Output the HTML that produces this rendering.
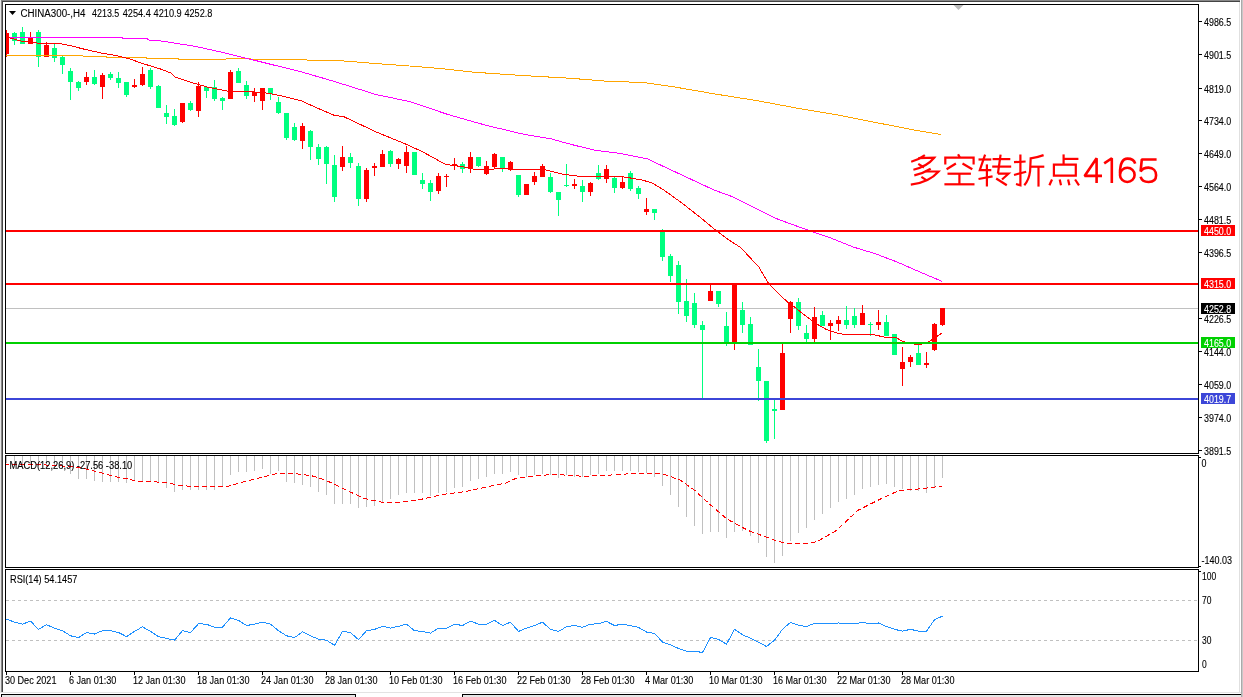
<!DOCTYPE html><html><head><meta charset="utf-8"><style>html,body{margin:0;padding:0;background:#fff;width:1243px;height:697px;overflow:hidden}</style></head><body><svg width="1243" height="697" viewBox="0 0 1243 697" shape-rendering="crispEdges" style="display:block;will-change:transform">
<rect x="0" y="0" width="1243" height="697" fill="#fff"/>
<rect x="0" y="0" width="1240" height="1" fill="#888888"/>
<rect x="0" y="1" width="1240" height="1" fill="#444444"/>
<rect x="0" y="0" width="1" height="692" fill="#e8e8e8"/>
<rect x="1" y="0" width="1" height="692" fill="#888888"/>
<rect x="2" y="1" width="1" height="691" fill="#444444"/>
<rect x="1239" y="2" width="1" height="690" fill="#e0e0e0"/>
<rect x="1241" y="0" width="1" height="697" fill="#aaaaaa"/>
<rect x="1242" y="0" width="1" height="697" fill="#c8c8c8"/>
<rect x="0" y="692" width="1241" height="1" fill="#e3e3e3"/>
<rect x="1" y="694" width="355" height="1" fill="#000"/>
<rect x="1" y="694" width="1" height="3" fill="#000"/>
<rect x="355" y="694" width="1" height="3" fill="#000"/>
<rect x="2" y="695" width="353" height="2" fill="#e6e6e6"/>
<rect x="462" y="694" width="779" height="1" fill="#000"/>
<rect x="462" y="694" width="1" height="3" fill="#000"/>
<rect x="463" y="695" width="778" height="2" fill="#e6e6e6"/>
<rect x="5" y="4" width="1194" height="1" fill="#000"/>
<rect x="5" y="453" width="1194" height="1" fill="#000"/>
<rect x="5" y="4" width="1" height="450" fill="#000"/>
<rect x="1198" y="4" width="1" height="450" fill="#000"/>
<rect x="5" y="455" width="1194" height="1" fill="#000"/>
<rect x="5" y="567" width="1194" height="1" fill="#000"/>
<rect x="5" y="455" width="1" height="113" fill="#000"/>
<rect x="1198" y="455" width="1" height="113" fill="#000"/>
<rect x="5" y="569" width="1194" height="1" fill="#000"/>
<rect x="5" y="671" width="1194" height="1" fill="#000"/>
<rect x="5" y="569" width="1" height="103" fill="#000"/>
<rect x="1198" y="569" width="1" height="103" fill="#000"/>
<defs><clipPath id="cm"><rect x="6" y="5" width="1192" height="448"/></clipPath><clipPath id="cd"><rect x="6" y="456" width="1192" height="111"/></clipPath><clipPath id="cr"><rect x="6" y="570" width="1192" height="101"/></clipPath></defs>
<polygon points="953.5,5 963.5,5 958.5,10" fill="#bbbbbb" shape-rendering="auto"/>
<g clip-path="url(#cm)">
<rect x="6" y="308" width="1192" height="1" fill="#c0c0c0"/>
<rect x="6" y="30" width="1" height="27" fill="#ff0000"/>
<rect x="4" y="33" width="5" height="21" fill="#ff0000"/>
<rect x="14" y="32" width="1" height="13" fill="#00ff7f"/>
<rect x="12" y="33" width="5" height="8" fill="#00ff7f"/>
<rect x="22" y="27" width="1" height="17" fill="#00ff7f"/>
<rect x="20" y="32" width="5" height="12" fill="#00ff7f"/>
<rect x="30" y="32" width="1" height="12" fill="#ff0000"/>
<rect x="28" y="38" width="5" height="6" fill="#ff0000"/>
<rect x="38" y="30" width="1" height="37" fill="#00ff7f"/>
<rect x="36" y="32" width="5" height="25" fill="#00ff7f"/>
<rect x="46" y="42" width="1" height="15" fill="#ff0000"/>
<rect x="44" y="45" width="5" height="12" fill="#ff0000"/>
<rect x="54" y="44" width="1" height="18" fill="#00ff7f"/>
<rect x="52" y="48" width="5" height="10" fill="#00ff7f"/>
<rect x="62" y="56" width="1" height="18" fill="#00ff7f"/>
<rect x="60" y="57" width="5" height="8" fill="#00ff7f"/>
<rect x="70" y="68" width="1" height="32" fill="#00ff7f"/>
<rect x="68" y="71" width="5" height="11" fill="#00ff7f"/>
<rect x="78" y="81" width="1" height="10" fill="#00ff7f"/>
<rect x="76" y="82" width="5" height="6" fill="#00ff7f"/>
<rect x="86" y="72" width="1" height="13" fill="#ff0000"/>
<rect x="84" y="77" width="5" height="5" fill="#ff0000"/>
<rect x="94" y="70" width="1" height="15" fill="#00ff7f"/>
<rect x="92" y="77" width="5" height="7" fill="#00ff7f"/>
<rect x="102" y="73" width="1" height="26" fill="#ff0000"/>
<rect x="100" y="75" width="5" height="12" fill="#ff0000"/>
<rect x="110" y="72" width="1" height="8" fill="#00ff7f"/>
<rect x="108" y="74" width="5" height="4" fill="#00ff7f"/>
<rect x="118" y="72" width="1" height="16" fill="#00ff7f"/>
<rect x="116" y="78" width="5" height="5" fill="#00ff7f"/>
<rect x="126" y="82" width="1" height="15" fill="#00ff7f"/>
<rect x="124" y="82" width="5" height="13" fill="#00ff7f"/>
<rect x="134" y="79" width="1" height="9" fill="#ff0000"/>
<rect x="132" y="85" width="5" height="2" fill="#ff0000"/>
<rect x="142" y="67" width="1" height="19" fill="#ff0000"/>
<rect x="140" y="74" width="5" height="11" fill="#ff0000"/>
<rect x="150" y="68" width="1" height="21" fill="#00ff7f"/>
<rect x="148" y="70" width="5" height="17" fill="#00ff7f"/>
<rect x="158" y="85" width="1" height="23" fill="#00ff7f"/>
<rect x="156" y="86" width="5" height="22" fill="#00ff7f"/>
<rect x="166" y="105" width="1" height="19" fill="#00ff7f"/>
<rect x="164" y="113" width="5" height="4" fill="#00ff7f"/>
<rect x="174" y="109" width="1" height="17" fill="#00ff7f"/>
<rect x="172" y="116" width="5" height="9" fill="#00ff7f"/>
<rect x="182" y="103" width="1" height="20" fill="#ff0000"/>
<rect x="180" y="103" width="5" height="19" fill="#ff0000"/>
<rect x="190" y="101" width="1" height="10" fill="#00ff7f"/>
<rect x="188" y="103" width="5" height="7" fill="#00ff7f"/>
<rect x="198" y="82" width="1" height="35" fill="#ff0000"/>
<rect x="196" y="86" width="5" height="25" fill="#ff0000"/>
<rect x="206" y="86" width="1" height="12" fill="#00ff7f"/>
<rect x="204" y="87" width="5" height="4" fill="#00ff7f"/>
<rect x="214" y="80" width="1" height="21" fill="#00ff7f"/>
<rect x="212" y="87" width="5" height="12" fill="#00ff7f"/>
<rect x="222" y="97" width="1" height="13" fill="#00ff7f"/>
<rect x="220" y="98" width="5" height="3" fill="#00ff7f"/>
<rect x="230" y="70" width="1" height="29" fill="#ff0000"/>
<rect x="228" y="72" width="5" height="27" fill="#ff0000"/>
<rect x="238" y="68" width="1" height="15" fill="#00ff7f"/>
<rect x="236" y="71" width="5" height="12" fill="#00ff7f"/>
<rect x="246" y="81" width="1" height="18" fill="#00ff7f"/>
<rect x="244" y="85" width="5" height="11" fill="#00ff7f"/>
<rect x="254" y="88" width="1" height="14" fill="#ff0000"/>
<rect x="252" y="92" width="5" height="4" fill="#ff0000"/>
<rect x="262" y="88" width="1" height="22" fill="#ff0000"/>
<rect x="260" y="88" width="5" height="13" fill="#ff0000"/>
<rect x="270" y="88" width="1" height="12" fill="#00ff7f"/>
<rect x="268" y="88" width="5" height="6" fill="#00ff7f"/>
<rect x="278" y="97" width="1" height="17" fill="#00ff7f"/>
<rect x="276" y="102" width="5" height="11" fill="#00ff7f"/>
<rect x="286" y="113" width="1" height="27" fill="#00ff7f"/>
<rect x="284" y="113" width="5" height="25" fill="#00ff7f"/>
<rect x="294" y="123" width="1" height="18" fill="#00ff7f"/>
<rect x="292" y="127" width="5" height="13" fill="#00ff7f"/>
<rect x="302" y="123" width="1" height="26" fill="#ff0000"/>
<rect x="300" y="126" width="5" height="15" fill="#ff0000"/>
<rect x="310" y="130" width="1" height="30" fill="#00ff7f"/>
<rect x="308" y="131" width="5" height="16" fill="#00ff7f"/>
<rect x="318" y="144" width="1" height="21" fill="#00ff7f"/>
<rect x="316" y="147" width="5" height="12" fill="#00ff7f"/>
<rect x="326" y="146" width="1" height="38" fill="#00ff7f"/>
<rect x="324" y="147" width="5" height="17" fill="#00ff7f"/>
<rect x="334" y="155" width="1" height="47" fill="#00ff7f"/>
<rect x="332" y="165" width="5" height="32" fill="#00ff7f"/>
<rect x="342" y="146" width="1" height="25" fill="#ff0000"/>
<rect x="340" y="157" width="5" height="10" fill="#ff0000"/>
<rect x="350" y="153" width="1" height="15" fill="#00ff7f"/>
<rect x="348" y="157" width="5" height="6" fill="#00ff7f"/>
<rect x="358" y="163" width="1" height="43" fill="#00ff7f"/>
<rect x="356" y="166" width="5" height="33" fill="#00ff7f"/>
<rect x="366" y="168" width="1" height="34" fill="#ff0000"/>
<rect x="364" y="170" width="5" height="29" fill="#ff0000"/>
<rect x="374" y="163" width="1" height="13" fill="#ff0000"/>
<rect x="372" y="166" width="5" height="2" fill="#ff0000"/>
<rect x="382" y="150" width="1" height="17" fill="#ff0000"/>
<rect x="380" y="154" width="5" height="13" fill="#ff0000"/>
<rect x="390" y="150" width="1" height="17" fill="#00ff7f"/>
<rect x="388" y="151" width="5" height="13" fill="#00ff7f"/>
<rect x="398" y="158" width="1" height="11" fill="#ff0000"/>
<rect x="396" y="159" width="5" height="5" fill="#ff0000"/>
<rect x="406" y="146" width="1" height="27" fill="#ff0000"/>
<rect x="404" y="152" width="5" height="14" fill="#ff0000"/>
<rect x="414" y="152" width="1" height="23" fill="#00ff7f"/>
<rect x="412" y="152" width="5" height="23" fill="#00ff7f"/>
<rect x="422" y="173" width="1" height="16" fill="#00ff7f"/>
<rect x="420" y="180" width="5" height="4" fill="#00ff7f"/>
<rect x="430" y="180" width="1" height="21" fill="#00ff7f"/>
<rect x="428" y="183" width="5" height="9" fill="#00ff7f"/>
<rect x="438" y="173" width="1" height="21" fill="#ff0000"/>
<rect x="436" y="176" width="5" height="15" fill="#ff0000"/>
<rect x="446" y="174" width="1" height="13" fill="#ff0000"/>
<rect x="444" y="176" width="5" height="1" fill="#ff0000"/>
<rect x="454" y="158" width="1" height="12" fill="#ff0000"/>
<rect x="452" y="164" width="5" height="2" fill="#ff0000"/>
<rect x="462" y="162" width="1" height="11" fill="#00ff7f"/>
<rect x="460" y="164" width="5" height="5" fill="#00ff7f"/>
<rect x="470" y="152" width="1" height="21" fill="#ff0000"/>
<rect x="468" y="157" width="5" height="12" fill="#ff0000"/>
<rect x="478" y="157" width="1" height="10" fill="#00ff7f"/>
<rect x="476" y="157" width="5" height="9" fill="#00ff7f"/>
<rect x="486" y="161" width="1" height="14" fill="#ff0000"/>
<rect x="484" y="166" width="5" height="8" fill="#ff0000"/>
<rect x="494" y="153" width="1" height="15" fill="#ff0000"/>
<rect x="492" y="154" width="5" height="13" fill="#ff0000"/>
<rect x="502" y="157" width="1" height="15" fill="#00ff7f"/>
<rect x="500" y="157" width="5" height="11" fill="#00ff7f"/>
<rect x="510" y="161" width="1" height="10" fill="#ff0000"/>
<rect x="508" y="162" width="5" height="7" fill="#ff0000"/>
<rect x="518" y="175" width="1" height="22" fill="#00ff7f"/>
<rect x="516" y="175" width="5" height="20" fill="#00ff7f"/>
<rect x="526" y="184" width="1" height="11" fill="#ff0000"/>
<rect x="524" y="184" width="5" height="11" fill="#ff0000"/>
<rect x="534" y="172" width="1" height="13" fill="#ff0000"/>
<rect x="532" y="176" width="5" height="6" fill="#ff0000"/>
<rect x="542" y="164" width="1" height="13" fill="#ff0000"/>
<rect x="540" y="166" width="5" height="11" fill="#ff0000"/>
<rect x="550" y="173" width="1" height="20" fill="#00ff7f"/>
<rect x="548" y="177" width="5" height="15" fill="#00ff7f"/>
<rect x="558" y="192" width="1" height="24" fill="#00ff7f"/>
<rect x="556" y="192" width="5" height="8" fill="#00ff7f"/>
<rect x="566" y="164" width="1" height="23" fill="#00ff7f"/>
<rect x="564" y="185" width="5" height="1" fill="#00ff7f"/>
<rect x="574" y="179" width="1" height="10" fill="#ff0000"/>
<rect x="572" y="184" width="5" height="2" fill="#ff0000"/>
<rect x="582" y="180" width="1" height="22" fill="#00ff7f"/>
<rect x="580" y="186" width="5" height="6" fill="#00ff7f"/>
<rect x="590" y="182" width="1" height="14" fill="#ff0000"/>
<rect x="588" y="183" width="5" height="9" fill="#ff0000"/>
<rect x="598" y="165" width="1" height="15" fill="#00ff7f"/>
<rect x="596" y="173" width="5" height="6" fill="#00ff7f"/>
<rect x="606" y="165" width="1" height="18" fill="#ff0000"/>
<rect x="604" y="169" width="5" height="10" fill="#ff0000"/>
<rect x="614" y="177" width="1" height="16" fill="#00ff7f"/>
<rect x="612" y="178" width="5" height="10" fill="#00ff7f"/>
<rect x="622" y="177" width="1" height="12" fill="#ff0000"/>
<rect x="620" y="182" width="5" height="6" fill="#ff0000"/>
<rect x="630" y="171" width="1" height="20" fill="#00ff7f"/>
<rect x="628" y="173" width="5" height="16" fill="#00ff7f"/>
<rect x="638" y="186" width="1" height="13" fill="#00ff7f"/>
<rect x="636" y="188" width="5" height="6" fill="#00ff7f"/>
<rect x="646" y="198" width="1" height="17" fill="#ff0000"/>
<rect x="644" y="209" width="5" height="3" fill="#ff0000"/>
<rect x="654" y="209" width="1" height="11" fill="#00ff7f"/>
<rect x="652" y="209" width="5" height="4" fill="#00ff7f"/>
<rect x="662" y="229" width="1" height="32" fill="#00ff7f"/>
<rect x="660" y="231" width="5" height="26" fill="#00ff7f"/>
<rect x="670" y="254" width="1" height="28" fill="#00ff7f"/>
<rect x="668" y="256" width="5" height="20" fill="#00ff7f"/>
<rect x="678" y="261" width="1" height="53" fill="#00ff7f"/>
<rect x="676" y="265" width="5" height="37" fill="#00ff7f"/>
<rect x="686" y="279" width="1" height="43" fill="#00ff7f"/>
<rect x="684" y="301" width="5" height="15" fill="#00ff7f"/>
<rect x="694" y="293" width="1" height="35" fill="#00ff7f"/>
<rect x="692" y="303" width="5" height="22" fill="#00ff7f"/>
<rect x="702" y="321" width="1" height="77" fill="#00ff7f"/>
<rect x="700" y="325" width="5" height="5" fill="#00ff7f"/>
<rect x="710" y="285" width="1" height="16" fill="#ff0000"/>
<rect x="708" y="291" width="5" height="10" fill="#ff0000"/>
<rect x="718" y="291" width="1" height="16" fill="#00ff7f"/>
<rect x="716" y="291" width="5" height="13" fill="#00ff7f"/>
<rect x="726" y="312" width="1" height="34" fill="#00ff7f"/>
<rect x="724" y="326" width="5" height="16" fill="#00ff7f"/>
<rect x="734" y="284" width="1" height="66" fill="#ff0000"/>
<rect x="732" y="284" width="5" height="58" fill="#ff0000"/>
<rect x="742" y="302" width="1" height="31" fill="#00ff7f"/>
<rect x="740" y="310" width="5" height="15" fill="#00ff7f"/>
<rect x="750" y="317" width="1" height="28" fill="#00ff7f"/>
<rect x="748" y="324" width="5" height="21" fill="#00ff7f"/>
<rect x="758" y="349" width="1" height="52" fill="#00ff7f"/>
<rect x="756" y="367" width="5" height="14" fill="#00ff7f"/>
<rect x="766" y="381" width="1" height="62" fill="#00ff7f"/>
<rect x="764" y="381" width="5" height="60" fill="#00ff7f"/>
<rect x="774" y="400" width="1" height="39" fill="#00ff7f"/>
<rect x="772" y="409" width="5" height="2" fill="#00ff7f"/>
<rect x="782" y="344" width="1" height="66" fill="#ff0000"/>
<rect x="780" y="353" width="5" height="57" fill="#ff0000"/>
<rect x="790" y="301" width="1" height="32" fill="#ff0000"/>
<rect x="788" y="302" width="5" height="17" fill="#ff0000"/>
<rect x="798" y="298" width="1" height="32" fill="#00ff7f"/>
<rect x="796" y="302" width="5" height="24" fill="#00ff7f"/>
<rect x="806" y="325" width="1" height="17" fill="#00ff7f"/>
<rect x="804" y="333" width="5" height="6" fill="#00ff7f"/>
<rect x="814" y="307" width="1" height="35" fill="#ff0000"/>
<rect x="812" y="317" width="5" height="22" fill="#ff0000"/>
<rect x="822" y="311" width="1" height="15" fill="#00ff7f"/>
<rect x="820" y="315" width="5" height="11" fill="#00ff7f"/>
<rect x="830" y="320" width="1" height="20" fill="#ff0000"/>
<rect x="828" y="323" width="5" height="3" fill="#ff0000"/>
<rect x="838" y="316" width="1" height="15" fill="#ff0000"/>
<rect x="836" y="320" width="5" height="4" fill="#ff0000"/>
<rect x="846" y="306" width="1" height="23" fill="#00ff7f"/>
<rect x="844" y="320" width="5" height="5" fill="#00ff7f"/>
<rect x="854" y="308" width="1" height="20" fill="#00ff7f"/>
<rect x="852" y="316" width="5" height="9" fill="#00ff7f"/>
<rect x="862" y="305" width="1" height="20" fill="#ff0000"/>
<rect x="860" y="313" width="5" height="12" fill="#ff0000"/>
<rect x="870" y="322" width="1" height="14" fill="#00ff7f"/>
<rect x="868" y="324" width="5" height="1" fill="#00ff7f"/>
<rect x="878" y="310" width="1" height="20" fill="#ff0000"/>
<rect x="876" y="322" width="5" height="3" fill="#ff0000"/>
<rect x="886" y="315" width="1" height="21" fill="#00ff7f"/>
<rect x="884" y="322" width="5" height="14" fill="#00ff7f"/>
<rect x="894" y="334" width="1" height="21" fill="#00ff7f"/>
<rect x="892" y="334" width="5" height="21" fill="#00ff7f"/>
<rect x="902" y="347" width="1" height="39" fill="#ff0000"/>
<rect x="900" y="362" width="5" height="7" fill="#ff0000"/>
<rect x="910" y="355" width="1" height="12" fill="#ff0000"/>
<rect x="908" y="357" width="5" height="5" fill="#ff0000"/>
<rect x="918" y="345" width="1" height="20" fill="#00ff7f"/>
<rect x="916" y="353" width="5" height="12" fill="#00ff7f"/>
<rect x="926" y="352" width="1" height="16" fill="#ff0000"/>
<rect x="924" y="363" width="5" height="2" fill="#ff0000"/>
<rect x="934" y="323" width="1" height="28" fill="#ff0000"/>
<rect x="932" y="324" width="5" height="26" fill="#ff0000"/>
<rect x="942" y="308" width="1" height="18" fill="#ff0000"/>
<rect x="940" y="308" width="5" height="17" fill="#ff0000"/>
<polyline points="5.7,55.5 82.0,55.6 84.0,56.6 106.0,56.8 108.0,57.6 146.0,57.8 148.0,58.5 178.0,58.5 179.0,59.5 225.5,59.5 226.5,58.5 249.5,58.5 252.0,59.5 306.5,59.5 307.5,60.5 338.3,60.5 371.0,63.2 409.4,66.0 442.2,68.7 475.0,72.3 524.3,75.6 570.8,78.3 611.8,81.6 641.9,82.3 674.7,87.0 715.7,94.1 756.8,100.6 797.8,108.3 838.8,115.1 879.8,123.3 915.4,130.2 941.4,134.6" fill="none" stroke="#ffa500" stroke-width="1" />
<polyline points="7.7,37.4 122.0,37.4 123.0,38.4 147.0,38.6 149.0,40.2 160.0,40.8 196.2,46.5 224.6,52.9 253.0,59.9 284.0,67.6 300.0,71.5 332.8,81.0 376.6,94.7 409.4,101.5 447.7,114.4 486.0,125.3 524.3,134.4 551.6,139.0 570.3,144.2 593.6,150.0 620.0,153.4 647.4,158.9 674.6,171.6 713.3,189.7 732.7,196.8 760.0,210.5 776.1,218.5 792.2,224.5 808.3,230.2 832.4,238.6 853.3,247.0 875.8,253.9 896.8,261.9 920.9,272.4 941.8,281.3" fill="none" stroke="#ff00ff" stroke-width="1" />
<polyline points="7.1,37.4 12.9,38.7 21.9,41.3 33.6,42.6 38.7,43.2 58.1,43.2 68.4,45.2 83.9,49.1 100.7,52.9 116.2,55.5 129.1,58.7 142.0,63.3 160.0,68.8 170.8,73.0 175.3,77.0 186.3,80.8 196.6,84.0 208.2,87.3 226.3,90.9 231.5,91.5 250.8,91.8 267.6,93.1 283.1,96.3 301.2,100.8 314.0,106.6 334.7,115.5 343.4,116.5 377.0,132.3 406.7,144.5 422.2,151.6 445.4,164.3 461.0,166.5 466.0,167.4 474.8,169.4 490.3,169.4 499.3,168.5 514.8,169.4 545.8,170.0 561.3,173.9 578.1,176.2 618.0,176.2 626.8,177.4 642.3,180.0 652.6,183.2 664.2,190.3 682.3,203.3 700.4,217.5 715.9,230.4 727.8,239.2 740.7,247.6 758.8,267.0 769.1,284.4 787.2,301.8 794.3,306.8 802.0,313.2 811.0,320.0 816.8,324.0 825.8,329.2 837.4,333.1 843.9,334.4 872.3,334.4 883.9,337.0 895.5,337.3 903.3,341.7 914.9,344.3 921.4,344.3 929.1,341.5 942.0,333.1" fill="none" stroke="#ff0000" stroke-width="1" />
<rect x="6" y="230" width="1192" height="2" fill="#ff0000"/>
<rect x="6" y="283" width="1192" height="2" fill="#ff0000"/>
<rect x="6" y="342" width="1192" height="2" fill="#00d000"/>
<rect x="6" y="398" width="1192" height="2" fill="#3c46d8"/>
</g>
<polygon points="9,11 16,11 12.5,15" fill="#000" shape-rendering="auto"/>
<text x="20.5" y="16.5" font-size="10" fill="#000" stroke="#000" stroke-width="0.1" font-family="Liberation Sans, sans-serif" textLength="65.0" lengthAdjust="spacingAndGlyphs">CHINA300-,H4</text>
<text x="92.0" y="16.5" font-size="10" fill="#000" stroke="#000" stroke-width="0.1" font-family="Liberation Sans, sans-serif" textLength="27.3" lengthAdjust="spacingAndGlyphs">4213.5</text>
<text x="122.7" y="16.5" font-size="10" fill="#000" stroke="#000" stroke-width="0.1" font-family="Liberation Sans, sans-serif" textLength="28.1" lengthAdjust="spacingAndGlyphs">4254.4</text>
<text x="153.6" y="16.5" font-size="10" fill="#000" stroke="#000" stroke-width="0.1" font-family="Liberation Sans, sans-serif" textLength="28.1" lengthAdjust="spacingAndGlyphs">4210.9</text>
<text x="184.39999999999998" y="16.5" font-size="10" fill="#000" stroke="#000" stroke-width="0.1" font-family="Liberation Sans, sans-serif" textLength="28.0" lengthAdjust="spacingAndGlyphs">4252.8</text>
<rect x="1199" y="21" width="3" height="1" fill="#000"/>
<text transform="translate(1204,25.5) scale(0.89,1)" font-size="10" fill="#000" stroke="#000" stroke-width="0.12" font-family="Liberation Sans, sans-serif" >4986.5</text>
<rect x="1199" y="54" width="3" height="1" fill="#000"/>
<text transform="translate(1204,58.5) scale(0.89,1)" font-size="10" fill="#000" stroke="#000" stroke-width="0.12" font-family="Liberation Sans, sans-serif" >4901.5</text>
<rect x="1199" y="88" width="3" height="1" fill="#000"/>
<text transform="translate(1204,92.5) scale(0.89,1)" font-size="10" fill="#000" stroke="#000" stroke-width="0.12" font-family="Liberation Sans, sans-serif" >4819.0</text>
<rect x="1199" y="120" width="3" height="1" fill="#000"/>
<text transform="translate(1204,124.5) scale(0.89,1)" font-size="10" fill="#000" stroke="#000" stroke-width="0.12" font-family="Liberation Sans, sans-serif" >4734.0</text>
<rect x="1199" y="153" width="3" height="1" fill="#000"/>
<text transform="translate(1204,157.5) scale(0.89,1)" font-size="10" fill="#000" stroke="#000" stroke-width="0.12" font-family="Liberation Sans, sans-serif" >4649.0</text>
<rect x="1199" y="186" width="3" height="1" fill="#000"/>
<text transform="translate(1204,190.5) scale(0.89,1)" font-size="10" fill="#000" stroke="#000" stroke-width="0.12" font-family="Liberation Sans, sans-serif" >4564.0</text>
<rect x="1199" y="219" width="3" height="1" fill="#000"/>
<text transform="translate(1204,223.5) scale(0.89,1)" font-size="10" fill="#000" stroke="#000" stroke-width="0.12" font-family="Liberation Sans, sans-serif" >4481.5</text>
<rect x="1199" y="252" width="3" height="1" fill="#000"/>
<text transform="translate(1204,256.5) scale(0.89,1)" font-size="10" fill="#000" stroke="#000" stroke-width="0.12" font-family="Liberation Sans, sans-serif" >4396.5</text>
<rect x="1199" y="318" width="3" height="1" fill="#000"/>
<text transform="translate(1204,322.5) scale(0.89,1)" font-size="10" fill="#000" stroke="#000" stroke-width="0.12" font-family="Liberation Sans, sans-serif" >4226.5</text>
<rect x="1199" y="351" width="3" height="1" fill="#000"/>
<text transform="translate(1204,355.5) scale(0.89,1)" font-size="10" fill="#000" stroke="#000" stroke-width="0.12" font-family="Liberation Sans, sans-serif" >4144.0</text>
<rect x="1199" y="384" width="3" height="1" fill="#000"/>
<text transform="translate(1204,388.5) scale(0.89,1)" font-size="10" fill="#000" stroke="#000" stroke-width="0.12" font-family="Liberation Sans, sans-serif" >4059.0</text>
<rect x="1199" y="417" width="3" height="1" fill="#000"/>
<text transform="translate(1204,421.5) scale(0.89,1)" font-size="10" fill="#000" stroke="#000" stroke-width="0.12" font-family="Liberation Sans, sans-serif" >3974.0</text>
<rect x="1199" y="450" width="3" height="1" fill="#000"/>
<text transform="translate(1204,454.5) scale(0.89,1)" font-size="10" fill="#000" stroke="#000" stroke-width="0.12" font-family="Liberation Sans, sans-serif" >3891.5</text>
<rect x="1201" y="225" width="34" height="11" fill="#ff0000"/>
<text transform="translate(1204,234.5) scale(0.89,1)" font-size="10" fill="#fff" stroke="#fff" stroke-width="0.12" font-family="Liberation Sans, sans-serif" >4450.0</text>
<rect x="1201" y="278" width="34" height="11" fill="#ff0000"/>
<text transform="translate(1204,287.5) scale(0.89,1)" font-size="10" fill="#fff" stroke="#fff" stroke-width="0.12" font-family="Liberation Sans, sans-serif" >4315.0</text>
<rect x="1201" y="303" width="34" height="11" fill="#000000"/>
<text transform="translate(1204,312.5) scale(0.89,1)" font-size="10" fill="#fff" stroke="#fff" stroke-width="0.12" font-family="Liberation Sans, sans-serif" >4252.8</text>
<rect x="1201" y="337" width="34" height="11" fill="#00d000"/>
<text transform="translate(1204,346.5) scale(0.89,1)" font-size="10" fill="#fff" stroke="#fff" stroke-width="0.12" font-family="Liberation Sans, sans-serif" >4165.0</text>
<rect x="1201" y="393" width="34" height="11" fill="#3c46d8"/>
<text transform="translate(1204,402.5) scale(0.89,1)" font-size="10" fill="#fff" stroke="#fff" stroke-width="0.12" font-family="Liberation Sans, sans-serif" >4019.7</text>
<path d="M924.9,155.1 Q919,159.5 911.2,161.7" fill="none" stroke="#ff0000" stroke-width="2.2" stroke-linecap="butt" stroke-linejoin="miter" shape-rendering="auto"/>
<path d="M918.3,158.2 L934.2,157.7 Q927,166.5 913.4,169.7" fill="none" stroke="#ff0000" stroke-width="2.2" stroke-linecap="butt" stroke-linejoin="miter" shape-rendering="auto"/>
<path d="M918.3,163.9 L924,167.5" fill="none" stroke="#ff0000" stroke-width="2.2" stroke-linecap="butt" stroke-linejoin="miter" shape-rendering="auto"/>
<path d="M930.7,168.8 Q923,173.5 914.3,175.4" fill="none" stroke="#ff0000" stroke-width="2.2" stroke-linecap="butt" stroke-linejoin="miter" shape-rendering="auto"/>
<path d="M925.4,171.5 L938.6,171.5 Q929,182.5 910.8,184.7" fill="none" stroke="#ff0000" stroke-width="2.2" stroke-linecap="butt" stroke-linejoin="miter" shape-rendering="auto"/>
<path d="M921.4,176.8 L926.7,180.3" fill="none" stroke="#ff0000" stroke-width="2.2" stroke-linecap="butt" stroke-linejoin="miter" shape-rendering="auto"/>
<path d="M958.1,154.2 L959.9,157.7" fill="none" stroke="#ff0000" stroke-width="2.2" stroke-linecap="butt" stroke-linejoin="miter" shape-rendering="auto"/>
<path d="M945.3,164.4 L945.3,157.7 L973.6,157.7 L973.6,164.4" fill="none" stroke="#ff0000" stroke-width="2.2" stroke-linecap="butt" stroke-linejoin="miter" shape-rendering="auto"/>
<path d="M955.9,163.5 L946.6,169.2" fill="none" stroke="#ff0000" stroke-width="2.2" stroke-linecap="butt" stroke-linejoin="miter" shape-rendering="auto"/>
<path d="M962.5,163.5 L972.3,169.2" fill="none" stroke="#ff0000" stroke-width="2.2" stroke-linecap="butt" stroke-linejoin="miter" shape-rendering="auto"/>
<path d="M947.5,173.7 L970.9,173.7" fill="none" stroke="#ff0000" stroke-width="2.2" stroke-linecap="butt" stroke-linejoin="miter" shape-rendering="auto"/>
<path d="M959.4,173.7 L959.4,184.3" fill="none" stroke="#ff0000" stroke-width="2.2" stroke-linecap="butt" stroke-linejoin="miter" shape-rendering="auto"/>
<path d="M944.4,184.3 L974.5,184.3" fill="none" stroke="#ff0000" stroke-width="2.2" stroke-linecap="butt" stroke-linejoin="miter" shape-rendering="auto"/>
<path d="M978.5,159.5 L991.3,159.5" fill="none" stroke="#ff0000" stroke-width="2.2" stroke-linecap="butt" stroke-linejoin="miter" shape-rendering="auto"/>
<path d="M985.1,154.6 L979.8,170.1 L991.3,170.1" fill="none" stroke="#ff0000" stroke-width="2.2" stroke-linecap="butt" stroke-linejoin="miter" shape-rendering="auto"/>
<path d="M986.9,164.4 L986.9,186.5" fill="none" stroke="#ff0000" stroke-width="2.2" stroke-linecap="butt" stroke-linejoin="miter" shape-rendering="auto"/>
<path d="M978.5,179 L992.6,176.3" fill="none" stroke="#ff0000" stroke-width="2.2" stroke-linecap="butt" stroke-linejoin="miter" shape-rendering="auto"/>
<path d="M992.6,159.1 L1010.3,159.1" fill="none" stroke="#ff0000" stroke-width="2.2" stroke-linecap="butt" stroke-linejoin="miter" shape-rendering="auto"/>
<path d="M1000.6,154.6 L997.9,173.7" fill="none" stroke="#ff0000" stroke-width="2.2" stroke-linecap="butt" stroke-linejoin="miter" shape-rendering="auto"/>
<path d="M992.2,166.6 L1011.2,166.6" fill="none" stroke="#ff0000" stroke-width="2.2" stroke-linecap="butt" stroke-linejoin="miter" shape-rendering="auto"/>
<path d="M997.9,173.7 L1008.5,173.7 L1002,179.5" fill="none" stroke="#ff0000" stroke-width="2.2" stroke-linecap="butt" stroke-linejoin="miter" shape-rendering="auto"/>
<path d="M996.2,178.5 L1006.8,185.2" fill="none" stroke="#ff0000" stroke-width="2.2" stroke-linecap="butt" stroke-linejoin="miter" shape-rendering="auto"/>
<path d="M1014,162.2 L1025.6,161.5" fill="none" stroke="#ff0000" stroke-width="2.2" stroke-linecap="butt" stroke-linejoin="miter" shape-rendering="auto"/>
<path d="M1020.4,154.4 L1020.4,185.3 L1016,184" fill="none" stroke="#ff0000" stroke-width="2.2" stroke-linecap="butt" stroke-linejoin="miter" shape-rendering="auto"/>
<path d="M1014,175 L1026.2,171.8" fill="none" stroke="#ff0000" stroke-width="2.2" stroke-linecap="butt" stroke-linejoin="miter" shape-rendering="auto"/>
<path d="M1043.6,155.1 Q1037,157.5 1030.7,158.3 L1030.1,171.2 Q1029,180 1024.3,185.3" fill="none" stroke="#ff0000" stroke-width="2.2" stroke-linecap="butt" stroke-linejoin="miter" shape-rendering="auto"/>
<path d="M1030.7,166.7 L1044.3,166.7" fill="none" stroke="#ff0000" stroke-width="2.2" stroke-linecap="butt" stroke-linejoin="miter" shape-rendering="auto"/>
<path d="M1038.5,166.7 L1038.5,186.6" fill="none" stroke="#ff0000" stroke-width="2.2" stroke-linecap="butt" stroke-linejoin="miter" shape-rendering="auto"/>
<path d="M1063.6,154.4 L1063.6,164.7" fill="none" stroke="#ff0000" stroke-width="2.2" stroke-linecap="butt" stroke-linejoin="miter" shape-rendering="auto"/>
<path d="M1063.6,158.9 L1078.4,158.9" fill="none" stroke="#ff0000" stroke-width="2.2" stroke-linecap="butt" stroke-linejoin="miter" shape-rendering="auto"/>
<path d="M1053.9,164.7 L1075.8,164.7 L1075.8,175.7 L1053.9,175.7 Z" fill="none" stroke="#ff0000" stroke-width="2.2" stroke-linecap="butt" stroke-linejoin="miter" shape-rendering="auto"/>
<path d="M1052,179.5 L1049.4,185.3" fill="none" stroke="#ff0000" stroke-width="2.2" stroke-linecap="butt" stroke-linejoin="miter" shape-rendering="auto"/>
<path d="M1059.7,179.5 L1061,185.3" fill="none" stroke="#ff0000" stroke-width="2.2" stroke-linecap="butt" stroke-linejoin="miter" shape-rendering="auto"/>
<path d="M1068.1,179.5 L1069.4,185.3" fill="none" stroke="#ff0000" stroke-width="2.2" stroke-linecap="butt" stroke-linejoin="miter" shape-rendering="auto"/>
<path d="M1075.1,179.5 L1079,185.3" fill="none" stroke="#ff0000" stroke-width="2.2" stroke-linecap="butt" stroke-linejoin="miter" shape-rendering="auto"/>
<path d="M1096.6,183.1 V158.2 L1084.6,175.9 H1102" fill="none" stroke="#ff0000" stroke-width="2.6" stroke-linejoin="bevel" shape-rendering="auto"/>
<path d="M1111.8,183.1 V158.2 L1104.2,163.4" fill="none" stroke="#ff0000" stroke-width="2.6" stroke-linejoin="bevel" shape-rendering="auto"/>
<path d="M1135.2,163.6 C1134.2,160.2 1131.5,158.6 1127.5,158.6 C1121.5,158.6 1120,165.5 1120,173.5" fill="none" stroke="#ff0000" stroke-width="2.6" stroke-linejoin="bevel" shape-rendering="auto"/>
<path d="M1120,174.9 A7.3,7.1 0 1,0 1134.6,174.9 A7.3,7.1 0 1,0 1120,174.9" fill="none" stroke="#ff0000" stroke-width="2.6" stroke-linejoin="bevel" shape-rendering="auto"/>
<path d="M1156.6,159.5 H1141.8 L1140.6,171.4 C1142.5,168.6 1145.3,167.6 1148.5,167.6 C1153.3,167.6 1156.1,171 1156.1,175.3 C1156.1,180 1152.8,182 1148.6,182 C1144.5,182 1141.5,180.3 1140.6,176.8" fill="none" stroke="#ff0000" stroke-width="2.6" stroke-linejoin="bevel" shape-rendering="auto"/>
<g clip-path="url(#cd)">
<rect x="6" y="456" width="1" height="7" fill="#c0c0c0"/>
<rect x="14" y="456" width="1" height="8" fill="#c0c0c0"/>
<rect x="22" y="456" width="1" height="8" fill="#c0c0c0"/>
<rect x="30" y="456" width="1" height="9" fill="#c0c0c0"/>
<rect x="38" y="456" width="1" height="10" fill="#c0c0c0"/>
<rect x="46" y="456" width="1" height="11" fill="#c0c0c0"/>
<rect x="54" y="456" width="1" height="11" fill="#c0c0c0"/>
<rect x="62" y="456" width="1" height="13" fill="#c0c0c0"/>
<rect x="70" y="456" width="1" height="18" fill="#c0c0c0"/>
<rect x="78" y="456" width="1" height="23" fill="#c0c0c0"/>
<rect x="86" y="456" width="1" height="23" fill="#c0c0c0"/>
<rect x="94" y="456" width="1" height="25" fill="#c0c0c0"/>
<rect x="102" y="456" width="1" height="26" fill="#c0c0c0"/>
<rect x="110" y="456" width="1" height="26" fill="#c0c0c0"/>
<rect x="118" y="456" width="1" height="26" fill="#c0c0c0"/>
<rect x="126" y="456" width="1" height="27" fill="#c0c0c0"/>
<rect x="134" y="456" width="1" height="25" fill="#c0c0c0"/>
<rect x="142" y="456" width="1" height="26" fill="#c0c0c0"/>
<rect x="150" y="456" width="1" height="26" fill="#c0c0c0"/>
<rect x="158" y="456" width="1" height="26" fill="#c0c0c0"/>
<rect x="166" y="456" width="1" height="32" fill="#c0c0c0"/>
<rect x="174" y="456" width="1" height="36" fill="#c0c0c0"/>
<rect x="182" y="456" width="1" height="34" fill="#c0c0c0"/>
<rect x="190" y="456" width="1" height="34" fill="#c0c0c0"/>
<rect x="198" y="456" width="1" height="34" fill="#c0c0c0"/>
<rect x="206" y="456" width="1" height="34" fill="#c0c0c0"/>
<rect x="214" y="456" width="1" height="34" fill="#c0c0c0"/>
<rect x="222" y="456" width="1" height="31" fill="#c0c0c0"/>
<rect x="230" y="456" width="1" height="19" fill="#c0c0c0"/>
<rect x="238" y="456" width="1" height="16" fill="#c0c0c0"/>
<rect x="246" y="456" width="1" height="16" fill="#c0c0c0"/>
<rect x="254" y="456" width="1" height="15" fill="#c0c0c0"/>
<rect x="262" y="456" width="1" height="13" fill="#c0c0c0"/>
<rect x="270" y="456" width="1" height="18" fill="#c0c0c0"/>
<rect x="278" y="456" width="1" height="15" fill="#c0c0c0"/>
<rect x="286" y="456" width="1" height="26" fill="#c0c0c0"/>
<rect x="294" y="456" width="1" height="27" fill="#c0c0c0"/>
<rect x="302" y="456" width="1" height="29" fill="#c0c0c0"/>
<rect x="310" y="456" width="1" height="31" fill="#c0c0c0"/>
<rect x="318" y="456" width="1" height="36" fill="#c0c0c0"/>
<rect x="326" y="456" width="1" height="39" fill="#c0c0c0"/>
<rect x="334" y="456" width="1" height="48" fill="#c0c0c0"/>
<rect x="342" y="456" width="1" height="48" fill="#c0c0c0"/>
<rect x="350" y="456" width="1" height="48" fill="#c0c0c0"/>
<rect x="358" y="456" width="1" height="52" fill="#c0c0c0"/>
<rect x="366" y="456" width="1" height="51" fill="#c0c0c0"/>
<rect x="374" y="456" width="1" height="50" fill="#c0c0c0"/>
<rect x="382" y="456" width="1" height="47" fill="#c0c0c0"/>
<rect x="390" y="456" width="1" height="43" fill="#c0c0c0"/>
<rect x="398" y="456" width="1" height="39" fill="#c0c0c0"/>
<rect x="406" y="456" width="1" height="37" fill="#c0c0c0"/>
<rect x="414" y="456" width="1" height="37" fill="#c0c0c0"/>
<rect x="422" y="456" width="1" height="37" fill="#c0c0c0"/>
<rect x="430" y="456" width="1" height="40" fill="#c0c0c0"/>
<rect x="438" y="456" width="1" height="37" fill="#c0c0c0"/>
<rect x="446" y="456" width="1" height="36" fill="#c0c0c0"/>
<rect x="454" y="456" width="1" height="32" fill="#c0c0c0"/>
<rect x="462" y="456" width="1" height="31" fill="#c0c0c0"/>
<rect x="470" y="456" width="1" height="25" fill="#c0c0c0"/>
<rect x="478" y="456" width="1" height="23" fill="#c0c0c0"/>
<rect x="486" y="456" width="1" height="21" fill="#c0c0c0"/>
<rect x="494" y="456" width="1" height="18" fill="#c0c0c0"/>
<rect x="502" y="456" width="1" height="18" fill="#c0c0c0"/>
<rect x="510" y="456" width="1" height="16" fill="#c0c0c0"/>
<rect x="518" y="456" width="1" height="19" fill="#c0c0c0"/>
<rect x="526" y="456" width="1" height="21" fill="#c0c0c0"/>
<rect x="534" y="456" width="1" height="19" fill="#c0c0c0"/>
<rect x="542" y="456" width="1" height="18" fill="#c0c0c0"/>
<rect x="550" y="456" width="1" height="19" fill="#c0c0c0"/>
<rect x="558" y="456" width="1" height="22" fill="#c0c0c0"/>
<rect x="566" y="456" width="1" height="19" fill="#c0c0c0"/>
<rect x="574" y="456" width="1" height="21" fill="#c0c0c0"/>
<rect x="582" y="456" width="1" height="21" fill="#c0c0c0"/>
<rect x="590" y="456" width="1" height="19" fill="#c0c0c0"/>
<rect x="598" y="456" width="1" height="18" fill="#c0c0c0"/>
<rect x="606" y="456" width="1" height="15" fill="#c0c0c0"/>
<rect x="614" y="456" width="1" height="15" fill="#c0c0c0"/>
<rect x="622" y="456" width="1" height="15" fill="#c0c0c0"/>
<rect x="630" y="456" width="1" height="15" fill="#c0c0c0"/>
<rect x="638" y="456" width="1" height="16" fill="#c0c0c0"/>
<rect x="646" y="456" width="1" height="17" fill="#c0c0c0"/>
<rect x="654" y="456" width="1" height="21" fill="#c0c0c0"/>
<rect x="662" y="456" width="1" height="30" fill="#c0c0c0"/>
<rect x="670" y="456" width="1" height="39" fill="#c0c0c0"/>
<rect x="678" y="456" width="1" height="51" fill="#c0c0c0"/>
<rect x="686" y="456" width="1" height="61" fill="#c0c0c0"/>
<rect x="694" y="456" width="1" height="70" fill="#c0c0c0"/>
<rect x="702" y="456" width="1" height="78" fill="#c0c0c0"/>
<rect x="710" y="456" width="1" height="76" fill="#c0c0c0"/>
<rect x="718" y="456" width="1" height="76" fill="#c0c0c0"/>
<rect x="726" y="456" width="1" height="82" fill="#c0c0c0"/>
<rect x="734" y="456" width="1" height="76" fill="#c0c0c0"/>
<rect x="742" y="456" width="1" height="75" fill="#c0c0c0"/>
<rect x="750" y="456" width="1" height="80" fill="#c0c0c0"/>
<rect x="758" y="456" width="1" height="87" fill="#c0c0c0"/>
<rect x="766" y="456" width="1" height="101" fill="#c0c0c0"/>
<rect x="774" y="456" width="1" height="107" fill="#c0c0c0"/>
<rect x="782" y="456" width="1" height="100" fill="#c0c0c0"/>
<rect x="790" y="456" width="1" height="85" fill="#c0c0c0"/>
<rect x="798" y="456" width="1" height="77" fill="#c0c0c0"/>
<rect x="806" y="456" width="1" height="72" fill="#c0c0c0"/>
<rect x="814" y="456" width="1" height="64" fill="#c0c0c0"/>
<rect x="822" y="456" width="1" height="58" fill="#c0c0c0"/>
<rect x="830" y="456" width="1" height="52" fill="#c0c0c0"/>
<rect x="838" y="456" width="1" height="46" fill="#c0c0c0"/>
<rect x="846" y="456" width="1" height="43" fill="#c0c0c0"/>
<rect x="854" y="456" width="1" height="39" fill="#c0c0c0"/>
<rect x="862" y="456" width="1" height="33" fill="#c0c0c0"/>
<rect x="870" y="456" width="1" height="31" fill="#c0c0c0"/>
<rect x="878" y="456" width="1" height="29" fill="#c0c0c0"/>
<rect x="886" y="456" width="1" height="28" fill="#c0c0c0"/>
<rect x="894" y="456" width="1" height="31" fill="#c0c0c0"/>
<rect x="902" y="456" width="1" height="33" fill="#c0c0c0"/>
<rect x="910" y="456" width="1" height="35" fill="#c0c0c0"/>
<rect x="918" y="456" width="1" height="35" fill="#c0c0c0"/>
<rect x="926" y="456" width="1" height="37" fill="#c0c0c0"/>
<rect x="934" y="456" width="1" height="31" fill="#c0c0c0"/>
<rect x="942" y="456" width="1" height="22" fill="#c0c0c0"/>
<polyline points="6.0,464.6 40.0,464.6 54.8,465.6 70.3,466.5 78.6,467.5 87.5,469.4 95.2,471.3 103.0,473.2 110.7,475.4 118.4,477.5 127.4,478.4 133.8,480.6 141.6,481.6 164.8,482.2 180.0,485.5 195.7,486.6 226.6,486.6 247.0,480.9 273.0,474.5 278.0,473.2 296.0,473.7 311.5,475.7 320.3,478.3 333.2,483.5 348.6,491.2 364.0,498.4 382.0,502.3 400.0,502.3 423.3,498.9 443.9,494.3 464.5,491.7 485.0,487.3 505.7,483.0 516.0,478.3 541.7,475.2 557.2,474.5 582.9,476.3 608.7,475.2 630.0,473.7 661.0,473.2 680.2,480.1 693.9,489.7 710.3,504.7 726.7,518.9 748.6,530.7 778.6,541.6 789.6,543.5 809.0,543.5 817.0,541.6 836.0,530.7 858.0,510.2 882.6,497.9 899.0,490.5 920.9,488.8 942.2,486.1" fill="none" stroke="#ff0000" stroke-width="1" stroke-dasharray="5 3" stroke-dashoffset="2"/>
</g>
<text transform="translate(9.5,468.5) scale(0.934,1)" font-size="10" fill="#000" stroke="#000" stroke-width="0.12" font-family="Liberation Sans, sans-serif" >MACD(12,26,9) -27.56 -38.10</text>
<rect x="1199" y="457" width="2" height="1" fill="#000"/>
<text transform="translate(1201.5,467) scale(0.89,1)" font-size="10" fill="#000" stroke="#000" stroke-width="0.12" font-family="Liberation Sans, sans-serif" >0</text>
<rect x="1199" y="566" width="2" height="1" fill="#000"/>
<text transform="translate(1201.5,563.7) scale(0.9,1)" font-size="10" fill="#000" stroke="#000" stroke-width="0.12" font-family="Liberation Sans, sans-serif" >-140.03</text>
<g clip-path="url(#cr)">
<line x1="6" y1="600.5" x2="1198" y2="600.5" stroke="#c0c0c0" stroke-width="1" stroke-dasharray="3 3"/>
<line x1="6" y1="640.5" x2="1198" y2="640.5" stroke="#c0c0c0" stroke-width="1" stroke-dasharray="3 3"/>
<polyline points="6.5,619.1 14.5,622.2 22.5,624.2 30.5,621.1 38.5,629.4 46.5,624.7 54.5,628.1 62.5,630.7 70.5,635.8 78.5,637.6 86.5,632.5 94.5,634.0 102.5,630.7 110.5,630.7 118.5,632.5 126.5,636.6 134.5,631.4 142.5,626.8 150.5,631.4 158.5,636.6 166.5,638.4 174.5,640.2 182.5,630.7 190.5,632.5 198.5,623.7 206.5,624.2 214.5,627.3 222.5,627.3 230.5,617.8 238.5,620.4 246.5,625.5 254.5,624.2 262.5,622.2 270.5,624.2 278.5,630.7 286.5,635.8 294.5,637.6 302.5,631.9 310.5,635.8 318.5,639.2 326.5,640.2 334.5,645.3 342.5,631.4 350.5,632.5 358.5,639.7 366.5,630.7 374.5,629.4 382.5,626.3 390.5,628.1 398.5,626.3 406.5,624.2 414.5,630.7 422.5,631.4 430.5,633.2 438.5,628.1 446.5,628.1 454.5,624.2 462.5,625.5 470.5,621.1 478.5,624.2 486.5,624.2 494.5,620.4 502.5,625.5 510.5,622.2 518.5,631.4 526.5,628.1 534.5,625.5 542.5,622.2 550.5,629.4 558.5,631.4 566.5,626.8 574.5,625.5 582.5,627.3 590.5,624.2 598.5,623.7 606.5,621.4 614.5,625.5 622.5,624.2 630.5,625.7 638.5,627.4 646.5,632.0 654.5,633.4 662.5,642.1 670.5,644.9 678.5,648.4 686.5,651.2 694.5,651.2 702.5,652.5 710.5,637.5 718.5,639.4 726.5,644.3 734.5,629.3 742.5,634.7 750.5,638.3 758.5,642.1 766.5,646.5 774.5,640.2 782.5,629.3 790.5,622.4 798.5,625.2 806.5,626.5 814.5,623.3 822.5,623.8 830.5,623.8 838.5,623.0 846.5,623.8 854.5,623.8 862.5,622.4 870.5,623.8 878.5,623.0 886.5,626.5 894.5,629.3 902.5,631.2 910.5,629.3 918.5,631.2 926.5,631.2 934.5,619.7 942.5,616.1" fill="none" stroke="#1e90ff" stroke-width="1"/>
</g>
<text transform="translate(10,582.5) scale(0.92,1)" font-size="10" fill="#000" stroke="#000" stroke-width="0.12" font-family="Liberation Sans, sans-serif" >RSI(14) 54.1457</text>
<rect x="1199" y="571" width="2" height="1" fill="#000"/>
<text transform="translate(1202,580) scale(0.85,1)" font-size="10" fill="#000" stroke="#000" stroke-width="0.12" font-family="Liberation Sans, sans-serif" >100</text>
<text transform="translate(1202,604.3) scale(0.85,1)" font-size="10" fill="#000" stroke="#000" stroke-width="0.12" font-family="Liberation Sans, sans-serif" >70</text>
<text transform="translate(1202,644.3) scale(0.85,1)" font-size="10" fill="#000" stroke="#000" stroke-width="0.12" font-family="Liberation Sans, sans-serif" >30</text>
<text transform="translate(1202,667.5) scale(0.85,1)" font-size="10" fill="#000" stroke="#000" stroke-width="0.12" font-family="Liberation Sans, sans-serif" >0</text>
<rect x="6" y="672" width="1" height="3" fill="#000"/>
<text transform="translate(4.9,683.9) scale(0.91,1)" font-size="10" fill="#000" stroke="#000" stroke-width="0.12" font-family="Liberation Sans, sans-serif" >30 Dec 2021</text>
<rect x="70" y="672" width="1" height="3" fill="#000"/>
<text transform="translate(68.9,683.9) scale(0.91,1)" font-size="10" fill="#000" stroke="#000" stroke-width="0.12" font-family="Liberation Sans, sans-serif" >6 Jan 01:30</text>
<rect x="134" y="672" width="1" height="3" fill="#000"/>
<text transform="translate(132.9,683.9) scale(0.91,1)" font-size="10" fill="#000" stroke="#000" stroke-width="0.12" font-family="Liberation Sans, sans-serif" >12 Jan 01:30</text>
<rect x="198" y="672" width="1" height="3" fill="#000"/>
<text transform="translate(196.9,683.9) scale(0.91,1)" font-size="10" fill="#000" stroke="#000" stroke-width="0.12" font-family="Liberation Sans, sans-serif" >18 Jan 01:30</text>
<rect x="262" y="672" width="1" height="3" fill="#000"/>
<text transform="translate(260.9,683.9) scale(0.91,1)" font-size="10" fill="#000" stroke="#000" stroke-width="0.12" font-family="Liberation Sans, sans-serif" >24 Jan 01:30</text>
<rect x="326" y="672" width="1" height="3" fill="#000"/>
<text transform="translate(324.9,683.9) scale(0.91,1)" font-size="10" fill="#000" stroke="#000" stroke-width="0.12" font-family="Liberation Sans, sans-serif" >28 Jan 01:30</text>
<rect x="390" y="672" width="1" height="3" fill="#000"/>
<text transform="translate(388.9,683.9) scale(0.91,1)" font-size="10" fill="#000" stroke="#000" stroke-width="0.12" font-family="Liberation Sans, sans-serif" >10 Feb 01:30</text>
<rect x="454" y="672" width="1" height="3" fill="#000"/>
<text transform="translate(452.9,683.9) scale(0.91,1)" font-size="10" fill="#000" stroke="#000" stroke-width="0.12" font-family="Liberation Sans, sans-serif" >16 Feb 01:30</text>
<rect x="518" y="672" width="1" height="3" fill="#000"/>
<text transform="translate(516.9,683.9) scale(0.91,1)" font-size="10" fill="#000" stroke="#000" stroke-width="0.12" font-family="Liberation Sans, sans-serif" >22 Feb 01:30</text>
<rect x="582" y="672" width="1" height="3" fill="#000"/>
<text transform="translate(580.9,683.9) scale(0.91,1)" font-size="10" fill="#000" stroke="#000" stroke-width="0.12" font-family="Liberation Sans, sans-serif" >28 Feb 01:30</text>
<rect x="646" y="672" width="1" height="3" fill="#000"/>
<text transform="translate(644.9,683.9) scale(0.91,1)" font-size="10" fill="#000" stroke="#000" stroke-width="0.12" font-family="Liberation Sans, sans-serif" >4 Mar 01:30</text>
<rect x="710" y="672" width="1" height="3" fill="#000"/>
<text transform="translate(708.9,683.9) scale(0.91,1)" font-size="10" fill="#000" stroke="#000" stroke-width="0.12" font-family="Liberation Sans, sans-serif" >10 Mar 01:30</text>
<rect x="774" y="672" width="1" height="3" fill="#000"/>
<text transform="translate(772.9,683.9) scale(0.91,1)" font-size="10" fill="#000" stroke="#000" stroke-width="0.12" font-family="Liberation Sans, sans-serif" >16 Mar 01:30</text>
<rect x="838" y="672" width="1" height="3" fill="#000"/>
<text transform="translate(836.9,683.9) scale(0.91,1)" font-size="10" fill="#000" stroke="#000" stroke-width="0.12" font-family="Liberation Sans, sans-serif" >22 Mar 01:30</text>
<rect x="902" y="672" width="1" height="3" fill="#000"/>
<text transform="translate(900.9,683.9) scale(0.91,1)" font-size="10" fill="#000" stroke="#000" stroke-width="0.12" font-family="Liberation Sans, sans-serif" >28 Mar 01:30</text>
</svg></body></html>
